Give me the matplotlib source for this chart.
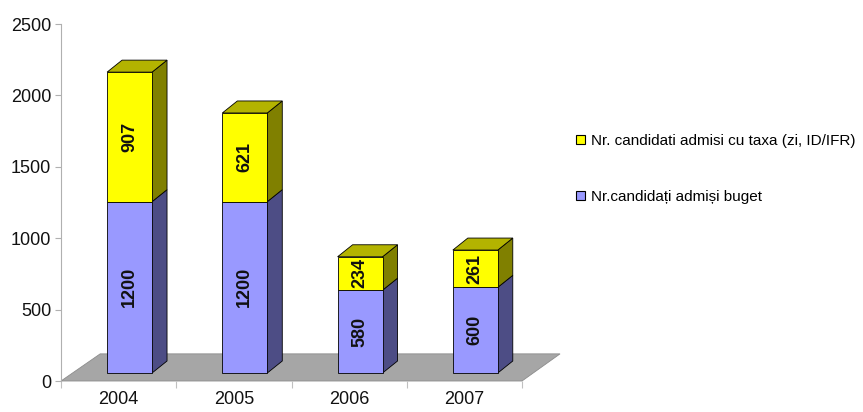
import matplotlib
matplotlib.use("Agg")
import matplotlib.pyplot as plt
from matplotlib.patches import Polygon, Patch

years = ["2004", "2005", "2006", "2007"]
budget = [1200, 1200, 580, 600]
tax = [907, 621, 234, 261]
label_tax = "Nr. candidati admisi cu taxa (zi, ID/IFR)"
label_budget = "Nr.candidați admiși buget"

plt.rcParams['font.family'] = ['Liberation Sans', 'DejaVu Sans']

blue = "#9999ff"
blue_side = "#4d4d85"
yellow = "#ffff00"
yellow_side = "#808000"
yellow_top = "#b3b300"

fig = plt.figure(figsize=(8.63, 4.12), dpi=100)
ax = fig.add_axes([61 / 863, 31 / 412, 461 / 863, 357 / 412])
ax.set_xlim(0, 4)
ax.set_ylim(0, 2500)

# 3d-ish geometry, in data units
base = 56       # front faces sit a bit above the axis zero
dx, dy = 0.13, 84
shift = 0.4     # left edge of front face inside each category
w = 0.39

# floor
floor = Polygon([(0, 0), (0.34, 190), (4.33, 190), (4.0, 0)], closed=True,
                facecolor="#a6a6a6", edgecolor="#8c8c8c", lw=0.6, clip_on=False, zorder=1)
ax.add_patch(floor)

xs = [i + shift for i in range(len(years))]

for i, x in enumerate(xs):
    y0 = base
    y1 = base + budget[i]
    y2 = y1 + tax[i]
    # side faces
    ax.add_patch(Polygon([(x + w, y0), (x + w + dx, y0 + dy), (x + w + dx, y1 + dy), (x + w, y1)],
                         facecolor=blue_side, edgecolor="black", lw=0.6, zorder=2))
    ax.add_patch(Polygon([(x + w, y1), (x + w + dx, y1 + dy), (x + w + dx, y2 + dy), (x + w, y2)],
                         facecolor=yellow_side, edgecolor="black", lw=0.6, zorder=2))
    # top face
    ax.add_patch(Polygon([(x, y2), (x + dx, y2 + dy), (x + w + dx, y2 + dy), (x + w, y2)],
                         facecolor=yellow_top, edgecolor="black", lw=0.6, zorder=2, clip_on=False))

ax.bar(xs, budget, bottom=base, width=w, align="edge", color=blue,
       edgecolor="black", lw=0.6, zorder=3)
ax.bar(xs, tax, bottom=[base + b for b in budget], width=w, align="edge", color=yellow,
       edgecolor="black", lw=0.6, zorder=3)

for i, x in enumerate(xs):
    ax.text(x + w / 2, base + budget[i] / 2, str(budget[i]), rotation=90, ha="center",
            va="center", fontsize=13, fontweight="bold", color="#111111", zorder=4)
    ax.text(x + w / 2, base + budget[i] + tax[i] / 2, str(tax[i]), rotation=90, ha="center",
            va="center", fontsize=13, fontweight="bold", color="#111111", zorder=4)

for s in ["top", "right", "bottom"]:
    ax.spines[s].set_visible(False)
ax.spines["left"].set_color("#b0b0b0")
ax.set_yticks(range(0, 2501, 500))
ax.tick_params(axis="y", colors="#b0b0b0", labelcolor="#111111", labelsize=13, length=4, pad=3)

ax.set_xticks(range(0, 5))
ax.set_xticklabels([])
ax.set_xticks([i + 0.5 for i in range(len(years))], minor=True)
ax.set_xticklabels(years, minor=True)
ax.tick_params(axis="x", which="major", colors="#c0c0c0", length=5, direction="out")
ax.tick_params(axis="x", which="minor", length=0, labelsize=13, labelcolor="#111111", pad=7)

handles = [Patch(facecolor=yellow, edgecolor="black", lw=0.8),
           Patch(facecolor=blue, edgecolor="black", lw=0.8)]
fig.legend(handles, [label_tax, label_budget], loc="upper left",
           bbox_to_anchor=(562 / 863, 1 - 120 / 412), frameon=False, fontsize=11,
           handlelength=0.6, handleheight=0.6, handletextpad=0.4, labelspacing=2.75)

fig.savefig("out.png", dpi=100)
